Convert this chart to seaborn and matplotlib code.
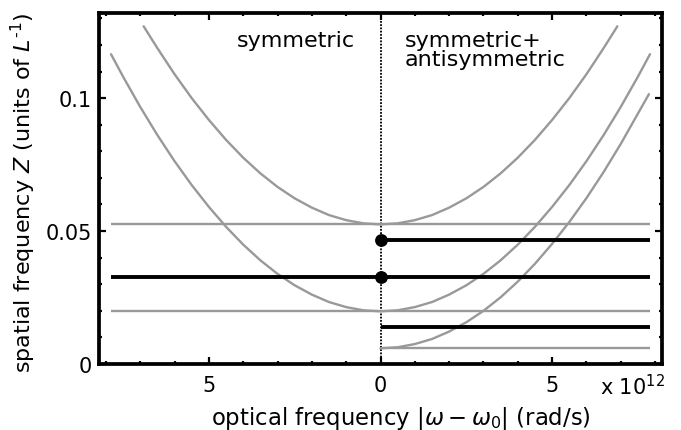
import matplotlib
matplotlib.use("Agg")
import matplotlib.pyplot as plt
from matplotlib.ticker import MultipleLocator, FixedLocator
import pandas as pd
import seaborn as sns

# --- data (optical frequency in units of 1e12 rad/s, Z in units of 1/L) ---
omega_upper = [-6.9, -6.5, -6, -5.5, -5, -4.5, -4, -3.5, -3, -2.5, -2, -1.5, -1, -0.5,
               0, 0.5, 1, 1.5, 2, 2.5, 3, 3.5, 4, 4.5, 5, 5.5, 6, 6.5, 6.9]
z_upper = [0.1270, 0.1188, 0.1090, 0.1000, 0.0918, 0.0843, 0.0776, 0.0717, 0.0666,
           0.0623, 0.0588, 0.0560, 0.0541, 0.0529, 0.0525, 0.0529, 0.0541, 0.0560,
           0.0588, 0.0623, 0.0666, 0.0717, 0.0776, 0.0843, 0.0918, 0.1000, 0.1090,
           0.1188, 0.1270]

omega_lower = [-7.85, -7.5, -7, -6.5, -6, -5.5, -5, -4.5, -4, -3.5, -3, -2.5, -2, -1.5,
               -1, -0.5, 0, 0.5, 1, 1.5, 2, 2.5, 3, 3.5, 4, 4.5, 5, 5.5, 6, 6.5, 7,
               7.5, 7.85]
z_lower = [0.1165, 0.1081, 0.0967, 0.0861, 0.0763, 0.0673, 0.0591, 0.0516, 0.0449,
           0.0390, 0.0339, 0.0296, 0.0261, 0.0233, 0.0214, 0.0202, 0.0198, 0.0202,
           0.0214, 0.0233, 0.0261, 0.0296, 0.0339, 0.0390, 0.0449, 0.0516, 0.0591,
           0.0673, 0.0763, 0.0861, 0.0967, 0.1081, 0.1165]

omega_anti = [0, 0.5, 1, 1.5, 2, 2.5, 3, 3.5, 4, 4.5, 5, 5.5, 6, 6.5, 7, 7.5, 7.82]
z_anti = [0.0059, 0.0063, 0.0075, 0.0094, 0.0122, 0.0157, 0.0200, 0.0251, 0.0310,
          0.0377, 0.0452, 0.0534, 0.0624, 0.0722, 0.0828, 0.0942, 0.1015]

# horizontal levels: full width and right half only
levels_gray_full = [0.0525, 0.0198]
levels_black_full = [0.0326]
levels_black_right = [0.0466, 0.0138]
levels_gray_right = [0.0059]
omega_min, omega_max = -7.85, 7.85

# marked points on the dotted axis
dot_omega = [0, 0]
dot_z = [0.0466, 0.0326]

x_ticks = [-5, 0, 5]
x_tick_labels = ["5", "0", "5"]
y_ticks = [0, 0.05, 0.1]
y_tick_labels = ["0", "0.05", "0.1"]

# --- style ---
sns.set_theme(style="ticks")
plt.rcParams["font.family"] = ["DejaVu Sans"]
plt.rcParams["mathtext.fontset"] = "dejavusans"
for key in ["text.color", "axes.labelcolor", "xtick.color", "ytick.color"]:
    plt.rcParams[key] = "black"

GRAY = "#999999"
BLACK = "#000000"

fig = plt.figure(figsize=(6.81, 4.31), dpi=100)
ax = fig.add_axes([99 / 681, 1 - 365 / 431, (662 - 99) / 681, (365 - 14) / 431])

curves = [
    pd.DataFrame({"omega": omega_upper, "z": z_upper}),
    pd.DataFrame({"omega": omega_lower, "z": z_lower}),
    pd.DataFrame({"omega": omega_anti, "z": z_anti}),
]
for df in curves:
    sns.lineplot(data=df, x="omega", y="z", color=GRAY, linewidth=1.7,
                 sort=False, ax=ax, zorder=2)

ax.hlines(levels_gray_full, omega_min, omega_max, colors=GRAY, linewidth=1.7, zorder=2)
ax.hlines(levels_gray_right, 0, omega_max, colors=GRAY, linewidth=1.7, zorder=2)
ax.hlines(levels_black_full, omega_min, omega_max, colors=BLACK, linewidth=2.8, zorder=3)
ax.hlines(levels_black_right, 0, omega_max, colors=BLACK, linewidth=2.8, zorder=3)

ax.axvline(0, color=BLACK, linestyle=(0, (1, 0.8)), linewidth=1.3, zorder=1)

sns.scatterplot(x=dot_omega, y=dot_z, color=BLACK, s=85, edgecolor=BLACK,
                linewidth=0, ax=ax, zorder=4)

ax.set_xlim(-8.2, 8.2)
ax.set_ylim(0, 0.132)

ax.xaxis.set_major_locator(FixedLocator(x_ticks))
ax.set_xticklabels(x_tick_labels)
ax.xaxis.set_minor_locator(MultipleLocator(1))
ax.yaxis.set_major_locator(FixedLocator(y_ticks))
ax.set_yticklabels(y_tick_labels)
ax.yaxis.set_minor_locator(MultipleLocator(0.01))

for side in ["left", "right", "top", "bottom"]:
    ax.spines[side].set_visible(True)
    ax.spines[side].set_linewidth(2.7)
    ax.spines[side].set_color(BLACK)

ax.tick_params(which="both", direction="in", top=True, right=True,
               color=BLACK, width=1.6)
ax.tick_params(which="major", length=5)
ax.tick_params(which="minor", length=2.5)
ax.tick_params(axis="x", which="major", labelsize=15, pad=8)
ax.tick_params(axis="y", which="major", labelsize=15, pad=5)

ax.set_xlabel(r"optical frequency $|\omega - \omega_0|$ (rad/s)", fontsize=16.4)
ax.set_ylabel(r"spatial frequency $Z$ (units of $L^{\text{-}1}$)", fontsize=16.0)
ax.xaxis.set_label_coords(0.537, -0.115)
ax.yaxis.set_label_coords(-0.108, 0.49)

ax.text(-4.2, 0.1195, "symmetric", fontsize=16, ha="left", va="baseline")
ax.text(0.7, 0.1195, "symmetric+", fontsize=16, ha="left", va="baseline")
ax.text(0.7, 0.1124, "antisymmetric", fontsize=16, ha="left", va="baseline")

fig.text(665 / 681, 1 - 395 / 431, r"x 10$^{12}$", fontsize=15,
         ha="right", va="baseline")

fig.savefig("out.png", dpi=100, facecolor="white")
